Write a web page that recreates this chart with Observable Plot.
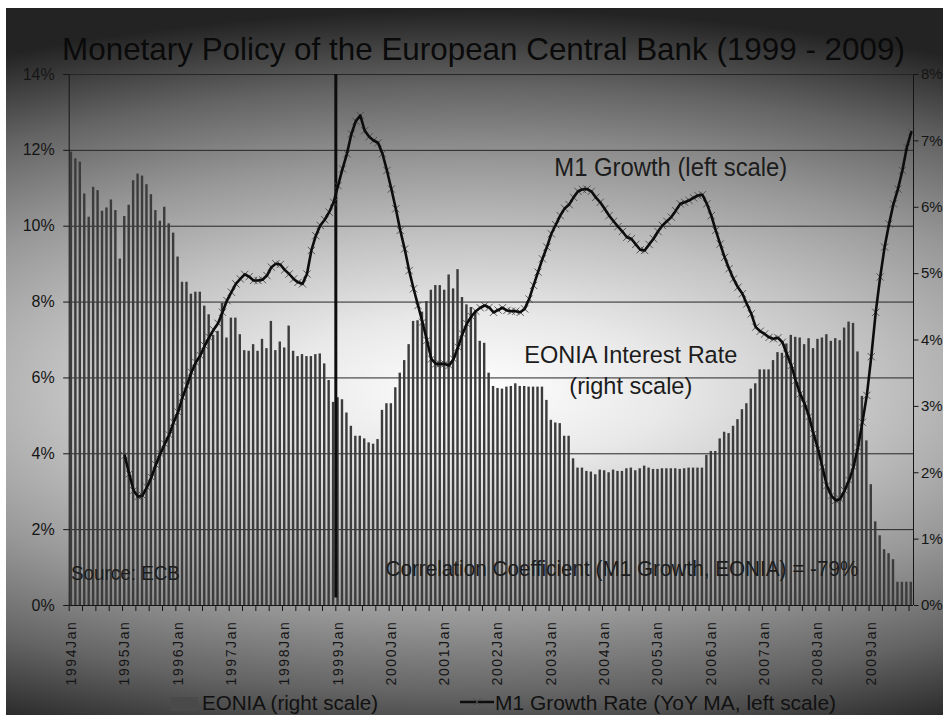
<!DOCTYPE html>
<html>
<head>
<meta charset="utf-8">
<script src="https://cdn.jsdelivr.net/npm/d3@7"></script>
<script src="https://cdn.jsdelivr.net/npm/@observablehq/plot@0.6"></script>
<style>
  html, body { margin: 0; padding: 0; background: #ffffff; }
  #chart { position: relative; width: 943px; height: 715px; overflow: hidden; }
  #chart svg { display: block; }
</style>
</head>
<body>
<div id="chart"></div>
<script>
// ---------------- DATA ----------------
const startYear = 1994;
const monthNames = ["Jan","Feb","Mar","Apr","May","Jun","Jul","Aug","Sep","Oct","Nov","Dec"];

// EONIA (right scale, %), monthly Jan 1994 .. Oct 2009
const eonia1994 = [6.83, 6.73, 6.68, 6.20, 5.85, 6.30, 6.25, 5.94, 5.99, 6.11, 5.95, 5.22];
const eonia1995 = [5.86, 6.03, 6.40, 6.50, 6.47, 6.34, 6.19, 5.95, 5.79, 6.00, 5.75, 5.61];
const eonia1996 = [5.25, 4.87, 4.87, 4.69, 4.72, 4.72, 4.51, 4.38, 4.07, 4.13, 4.55, 4.03];
const eonia1997 = [4.33, 4.33, 4.08, 3.84, 3.83, 3.93, 3.83, 4.01, 3.87, 4.28, 3.84, 3.97];
const eonia1998 = [3.88, 4.21, 3.83, 3.75, 3.78, 3.75, 3.75, 3.78, 3.79, 3.64, 3.39, 3.06];
const eonia1999 = [3.13, 3.10, 2.90, 2.70, 2.55, 2.55, 2.51, 2.45, 2.43, 2.50, 2.94, 3.04];
const eonia2000 = [3.04, 3.28, 3.50, 3.69, 3.93, 4.28, 4.29, 4.42, 4.58, 4.75, 4.82, 4.82];
const eonia2001 = [4.75, 4.98, 4.77, 5.06, 4.64, 4.53, 4.49, 4.44, 3.98, 3.95, 3.50, 3.30];
const eonia2002 = [3.27, 3.26, 3.29, 3.30, 3.34, 3.30, 3.30, 3.29, 3.29, 3.29, 3.29, 3.09];
const eonia2003 = [2.79, 2.75, 2.74, 2.55, 2.55, 2.21, 2.07, 2.07, 2.02, 2.01, 1.97, 2.04];
const eonia2004 = [2.03, 2.00, 2.04, 2.02, 2.02, 2.06, 2.07, 2.03, 2.06, 2.10, 2.07, 2.05];
const eonia2005 = [2.05, 2.06, 2.06, 2.06, 2.06, 2.05, 2.06, 2.07, 2.07, 2.07, 2.07, 2.26];
const eonia2006 = [2.32, 2.32, 2.51, 2.61, 2.59, 2.70, 2.80, 2.95, 3.04, 3.26, 3.34, 3.55];
const eonia2007 = [3.55, 3.55, 3.69, 3.81, 3.80, 3.94, 4.07, 4.04, 4.03, 3.93, 4.02, 3.87];
const eonia2008 = [4.01, 4.03, 4.08, 3.98, 4.02, 3.99, 4.18, 4.27, 4.25, 3.82, 3.15, 2.48];
const eonia2009 = [1.82, 1.26, 1.05, 0.84, 0.78, 0.69, 0.35, 0.35, 0.35, 0.35];

// M1 growth rate (YoY MA, left scale, %), monthly Jan 1995 .. Oct 2009
const m1Start = "1995Jan";
const m1_1995 = [3.95, 3.47, 3.03, 2.87, 2.90, 3.12, 3.38, 3.71, 4.00, 4.26, 4.50, 4.83];
const m1_1996 = [5.10, 5.49, 5.80, 6.15, 6.41, 6.59, 6.85, 7.07, 7.27, 7.44, 7.73, 8.04];
const m1_1997 = [8.26, 8.48, 8.61, 8.73, 8.67, 8.57, 8.57, 8.59, 8.70, 8.92, 9.01, 8.99];
const m1_1998 = [8.85, 8.74, 8.61, 8.52, 8.48, 8.74, 9.36, 9.75, 10.02, 10.17, 10.37, 10.63];
const m1_1999 = [11.07, 11.51, 11.91, 12.43, 12.77, 12.92, 12.52, 12.36, 12.26, 12.20, 11.91, 11.47];
const m1_2000 = [10.98, 10.46, 9.89, 9.40, 8.83, 8.35, 7.91, 7.47, 6.99, 6.50, 6.37, 6.37];
const m1_2001 = [6.37, 6.33, 6.50, 6.81, 7.16, 7.43, 7.62, 7.76, 7.85, 7.91, 7.86, 7.73];
const m1_2002 = [7.79, 7.85, 7.78, 7.76, 7.76, 7.73, 7.82, 8.08, 8.44, 8.79, 9.14, 9.45];
const m1_2003 = [9.80, 10.04, 10.28, 10.47, 10.57, 10.76, 10.92, 10.97, 10.98, 10.92, 10.76, 10.63];
const m1_2004 = [10.46, 10.28, 10.13, 9.99, 9.86, 9.71, 9.67, 9.52, 9.38, 9.36, 9.52, 9.67];
const m1_2005 = [9.86, 10.02, 10.13, 10.24, 10.41, 10.59, 10.63, 10.68, 10.75, 10.81, 10.83, 10.59];
const m1_2006 = [10.28, 9.89, 9.53, 9.18, 8.88, 8.61, 8.39, 8.22, 7.95, 7.69, 7.34, 7.23];
const m1_2007 = [7.16, 7.07, 7.03, 7.06, 6.94, 6.63, 6.33, 5.93, 5.58, 5.32, 4.98, 4.53];
const m1_2008 = [4.13, 3.65, 3.16, 2.90, 2.77, 2.81, 3.03, 3.30, 3.65, 4.17, 4.83, 5.54];
const m1_2009 = [6.56, 7.73, 8.66, 9.45, 10.06, 10.59, 10.98, 11.47, 12.08, 12.48];

const xTickLabels = ["1994Jan","1995Jan","1996Jan","1997Jan","1998Jan","1999Jan","2000Jan","2001Jan",
                     "2002Jan","2003Jan","2004Jan","2005Jan","2006Jan","2007Jan","2008Jan","2009Jan"];
const leftTicks = [0, 2, 4, 6, 8, 10, 12, 14];   // M1 growth, %
const rightTicks = [0, 1, 2, 3, 4, 5, 6, 7, 8];   // EONIA, %
const ecbStart = "1999Jan";

const titleText = "Monetary Policy of the European Central Bank (1999 - 2009)";
const legendLabels = ["EONIA (right scale)", "M1 Growth Rate (YoY MA, left scale)"];
const noteTexts = ["M1 Growth (left scale)", "EONIA Interest Rate", "(right scale)",
                   "Source: ECB", "Correlation Coefficient (M1 Growth, EONIA) = -79%"];

// ---------------- BUILD ----------------
const eonia = [].concat(eonia1994, eonia1995, eonia1996, eonia1997, eonia1998, eonia1999, eonia2000,
  eonia2001, eonia2002, eonia2003, eonia2004, eonia2005, eonia2006, eonia2007, eonia2008, eonia2009);
const m1 = [].concat(m1_1995, m1_1996, m1_1997, m1_1998, m1_1999, m1_2000, m1_2001, m1_2002,
  m1_2003, m1_2004, m1_2005, m1_2006, m1_2007, m1_2008, m1_2009);

const idx = s => (+s.slice(0, 4) - startYear) * 12 + monthNames.indexOf(s.slice(4));
const K = 14 / 8; // right-scale -> left-scale factor
const eoniaData = eonia.map((v, i) => ({i, v}));
const m1Data = m1.map((v, j) => ({i: idx(m1Start) + j, v}));
const quarterTicks = d3.range(0, eonia.length + 1, 3).map(b => b - 0.5);
const labelIdx = xTickLabels.map(idx);
const FONT = "'Liberation Sans', Arial, Helvetica, sans-serif";

const chart = Plot.plot({
  width: 943,
  height: 715,
  marginTop: 74,
  marginBottom: 110,
  marginLeft: 68.7,
  marginRight: 30,
  style: {background: "transparent", fontFamily: FONT, color: "#151515", overflow: "visible"},
  x: {domain: [-0.5, eonia.length - 0.5], label: null},
  y: {domain: [0, 14], label: null},
  marks: [
    Plot.ruleY(leftTicks.slice(1), {stroke: "#262626", strokeWidth: 1}),
    Plot.rectY(eoniaData, {x1: d => d.i - 0.27, x2: d => d.i + 0.27, y1: 0, y2: d => d.v * K, fill: "#3c3c3c"}),
    Plot.ruleX([idx(ecbStart) - 0.5], {y1: 0.2, y2: 14, stroke: "#0d0d0d", strokeWidth: 3}),
    Plot.dot(m1Data, {x: "i", y: "v", symbol: "times", r: 3.4, stroke: "#4a4a4a", strokeWidth: 0.9}),
    Plot.line(m1Data, {x: "i", y: "v", stroke: "#0d0d0d", strokeWidth: 2.6}),
    Plot.ruleX([-0.5, eonia.length - 0.5], {stroke: "#151515", strokeWidth: 1}),
    Plot.ruleY([0], {stroke: "#151515", strokeWidth: 1}),
    Plot.axisY(leftTicks, {anchor: "left", tickSize: 5.5, tickPadding: 9, fontSize: 16,
      tickFormat: d => d + "%", label: null}),
    Plot.axisY(rightTicks.map(t => t * K), {anchor: "right", tickSize: 4.5, tickPadding: 3, fontSize: 15,
      tickFormat: d => Math.round(d / K) + "%", label: null}),
    Plot.axisX(quarterTicks, {anchor: "bottom", tickSize: 6, tickFormat: () => "", label: null}),
    Plot.axisX(labelIdx, {anchor: "bottom", tickSize: 0, tickPadding: 15, tickRotate: -90, fontSize: 14,
      tickFormat: i => xTickLabels[labelIdx.indexOf(i)], label: null})
  ]
});

document.getElementById("chart").appendChild(chart);

// ---------------- DECORATION ----------------
const svg = d3.select(chart);
svg.selectAll('g[aria-label="x-axis tick label"] text').style("letter-spacing", "1.6px");

// background (elliptic grey gradient like the original)
svg.insert("rect", ":first-child")
  .attr("x", 6).attr("y", 8).attr("width", 937).attr("height", 707)
  .attr("fill", "url(#bgGrad)");
const defs = svg.insert("defs", ":first-child");
const grad = defs.append("radialGradient")
  .attr("id", "bgGrad").attr("gradientUnits", "userSpaceOnUse")
  .attr("cx", 0).attr("cy", 0).attr("r", 1)
  .attr("gradientTransform", "translate(474,390) scale(1000,380)");
[[0, "#ffffff"], [0.2, "#e8e8e8"], [0.4, "#c3c3c3"], [0.6, "#989898"], [0.8, "#646464"], [1, "#232323"]]
  .forEach(([o, c]) => grad.append("stop").attr("offset", o).attr("stop-color", c));

// scales for annotations
const sx0 = chart.scale("x"), sy0 = chart.scale("y");
const sx = sx0.apply ? v => sx0.apply(v) : d3.scaleLinear(sx0.domain, sx0.range);
const sy = sy0.apply ? v => sy0.apply(v) : d3.scaleLinear(sy0.domain, sy0.range);

const notes = svg.append("g").attr("font-family", FONT).attr("fill", "#1c1c1c");
const place = [
  {at: "2005Apr", v: 11.32, anchor: "middle", size: 25, len: 233},
  {at: "2004Jul", v: 6.37, anchor: "middle", size: 24.5, len: 213},
  {at: "2004Jul", v: 5.56, anchor: "middle", size: 24.5, len: 123},
  {at: "1994Jan", v: 0.66, anchor: "start", size: 19.5, len: 109},
  {at: "2004May", v: 0.76, anchor: "middle", size: 21.5, len: 473}
];
noteTexts.forEach((t, k) => {
  const p = place[k];
  notes.append("text")
    .attr("x", sx(idx(p.at))).attr("y", sy(p.v))
    .attr("text-anchor", p.anchor).attr("font-size", p.size)
    .attr("textLength", p.len).attr("lengthAdjust", "spacingAndGlyphs")
    .text(t);
});

// title
svg.append("text")
  .attr("x", 483.5).attr("y", 59.5).attr("text-anchor", "middle")
  .attr("font-family", FONT).attr("font-size", 31.4).attr("fill", "#0a0a0a")
  .text(titleText);

// legend
const lg = svg.append("g").attr("font-family", FONT).attr("font-size", 20.5).attr("fill", "#111")
  .attr("text-anchor", "start");
lg.append("rect").attr("x", 171).attr("y", 697).attr("width", 27).attr("height", 14).attr("fill", "#4a4a4a");
lg.append("text").attr("x", 202).attr("y", 709.5).attr("text-anchor", "start")
  .attr("textLength", 176).attr("lengthAdjust", "spacingAndGlyphs").text(legendLabels[0]);
lg.append("line").attr("x1", 460).attr("x2", 494).attr("y1", 702).attr("y2", 702)
  .attr("stroke", "#0d0d0d").attr("stroke-width", 2.6);
lg.append("path").attr("d", d3.symbol(d3.symbolTimes, Math.PI * 3.4 * 3.4)())
  .attr("transform", "translate(477,702)").attr("fill", "none")
  .attr("stroke", "#4a4a4a").attr("stroke-width", 0.9);
lg.append("text").attr("x", 495).attr("y", 709.5).attr("text-anchor", "start")
  .attr("textLength", 341).attr("lengthAdjust", "spacingAndGlyphs").text(legendLabels[1]);
</script>
</body>
</html>
